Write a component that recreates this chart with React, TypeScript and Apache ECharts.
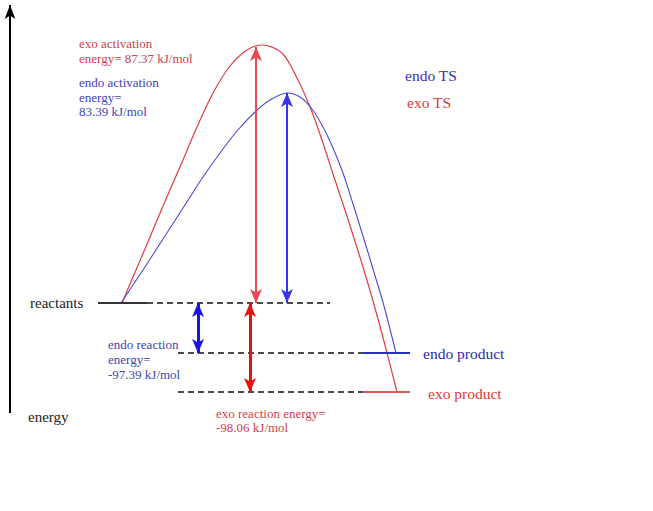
import { useEffect, useRef } from 'react';
import * as echarts from 'echarts';

const pathways = ['exo', 'endo'];
const activationEnergy = [87.37, 83.39]; // kJ/mol
const reactionEnergy = [-98.06, -97.39]; // kJ/mol

// diagram heights (schematic, not to scale), reactants = 0
const levelNames = ['reactants', 'exo TS', 'endo TS', 'exo product', 'endo product'];
const levelHeights = [0, 258, 210, -89, -50];

// reaction coordinate vs diagram height
const exoCurveX = [122, 136, 150, 166, 183, 197, 213, 230, 247, 262, 282, 298, 312, 323, 333, 343, 353, 363, 373, 385, 397];
const exoCurveY = [0, 33, 66, 104, 143, 176, 210, 237, 253, 258, 250, 223, 191, 160, 129, 99, 68, 36, 2, -42, -89];
const endoCurveX = [121, 143, 163, 183, 203, 220, 237, 255, 270, 287, 300, 312, 323, 333, 343, 353, 363, 373, 384, 396];
const endoCurveY = [0, 33, 64, 95, 126, 150, 172, 191, 203, 210, 206, 194, 176, 155, 130, 99, 67, 34, -3, -50];

const RED = '#e03c44';
const BLUE = '#4a4ad8';
const RED_TEXT = '#d2414a';
const BLUE_TEXT = '#4343b3';
const SERIF = 'Liberation Serif';

const zip = (xs: number[], ys: number[]) => xs.map((x, i) => [x, ys[i]]);

const text = (t: string, x: number, y: number, size: number, fill: string) => ({
  type: 'text',
  x,
  y,
  silent: true,
  style: { text: t, fill, fontSize: size, fontFamily: SERIF, verticalAlign: 'middle', align: 'left' }
});

export default function App() {
  const ref = useRef<HTMLDivElement>(null);

  useEffect(() => {
    if (!ref.current) return;
    const chart = echarts.init(ref.current, null, { renderer: 'svg' });

    const [R, exoTS, endoTS, exoP, endoP] = levelHeights;
    const arrow = (x: number, y1: number, y2: number, color: string, width: number) => [
      { coord: [x, y1], lineStyle: { color, width, type: 'solid' } },
      { coord: [x, y2] }
    ];
    const seg = (x1: number, x2: number, h: number) => [[x1, h], [x2, h]];

    const fmt = (v: number) => v.toFixed(2);
    const exo = pathways.indexOf('exo');
    const endo = pathways.indexOf('endo');

    chart.setOption({
      animation: false,
      backgroundColor: '#fff',
      grid: { left: 0, right: 0, top: 0, bottom: 0 },
      xAxis: { type: 'value', min: 0, max: 653, show: false },
      yAxis: { type: 'value', min: -208, max: 303, show: false },
      series: [
        {
          name: 'exo profile', type: 'line', data: zip(exoCurveX, exoCurveY), smooth: 0.3,
          showSymbol: false, silent: true, lineStyle: { color: RED, width: 1.2 }
        },
        {
          name: 'endo profile', type: 'line', data: zip(endoCurveX, endoCurveY), smooth: 0.3,
          showSymbol: false, silent: true, lineStyle: { color: BLUE, width: 1.1 }
        },
        {
          name: levelNames[0], type: 'line', data: seg(98, 147, R), showSymbol: false, silent: true,
          lineStyle: { color: '#333', width: 2 },
          markLine: {
            silent: true, animation: false, label: { show: false },
            symbol: ['arrow', 'arrow'], symbolSize: [9, 14],
            data: [
              arrow(256, R, exoTS - 2, '#e84850', 2),
              arrow(287, R, endoTS, '#3535f0', 2),
              arrow(198, R, endoP, '#1515e8', 3),
              arrow(250, R, exoP, '#e51010', 3)
            ]
          }
        },
        {
          name: levelNames[4], type: 'line', data: seg(363, 410, endoP), showSymbol: false, silent: true,
          lineStyle: { color: '#2430c8', width: 2 }
        },
        {
          name: levelNames[3], type: 'line', data: seg(363, 410, exoP), showSymbol: false, silent: true,
          lineStyle: { color: '#e05a5a', width: 2 }
        },
        ...[seg(147, 330, R), seg(178, 363, endoP), seg(178, 363, exoP)].map((d, i) => ({
          name: 'dash' + i, type: 'line', data: d, showSymbol: false, silent: true,
          lineStyle: { color: '#111', width: 1.6, type: [6, 4] }
        })),
        {
          name: 'energy axis', type: 'line', data: [], silent: true,
          markLine: {
            silent: true, animation: false, label: { show: false },
            symbol: ['none', 'arrow'], symbolSize: [8, 14],
            data: [arrow(10, -110, 298, '#000', 2)]
          }
        }
      ],
      graphic: [
        text('exo activation', 79, 43, 13, RED_TEXT),
        text(`energy= ${fmt(activationEnergy[exo])} kJ/mol`, 79, 58, 13, RED_TEXT),
        text('endo activation', 79, 82, 13, BLUE_TEXT),
        text('energy=', 79, 97, 13, BLUE_TEXT),
        text(`${fmt(activationEnergy[endo])} kJ/mol`, 79, 111, 13, BLUE_TEXT),
        text(levelNames[2], 405, 75, 15.5, '#3434ad'),
        text(levelNames[1], 407, 102, 15.5, '#d83a3a'),
        text(levelNames[0], 30, 303, 15, '#222'),
        text('endo reaction', 108, 344, 13, BLUE_TEXT),
        text('energy=', 108, 359, 13, BLUE_TEXT),
        text(`${fmt(reactionEnergy[endo])} kJ/mol`, 108, 374, 13, BLUE_TEXT),
        text(levelNames[4], 423, 353, 15.5, '#2a2aa5'),
        text(levelNames[3], 428, 393, 15.5, '#d83a3a'),
        text('exo reaction energy=', 216, 413, 13, RED_TEXT),
        text(`${fmt(reactionEnergy[exo])} kJ/mol`, 216, 427, 13, RED_TEXT),
        text('energy', 28, 417, 15, '#222')
      ]
    });

    return () => chart.dispose();
  }, []);

  return <div ref={ref} style={{ position: 'absolute', left: 0, top: 0, width: 653, height: 511 }} />;
}
